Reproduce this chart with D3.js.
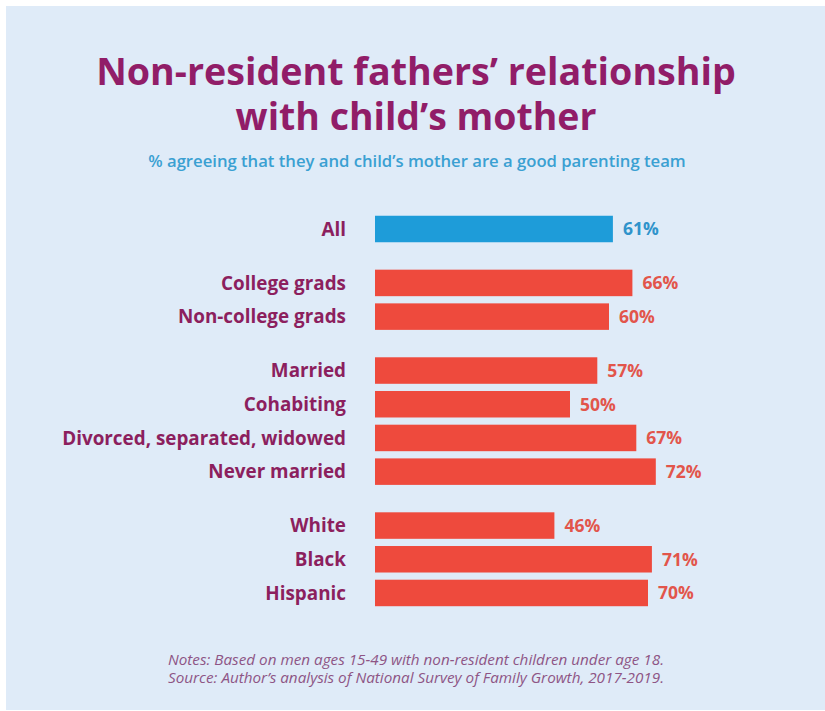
<!DOCTYPE html>
<html>
<head>
<meta charset="utf-8">
<script src="https://cdn.jsdelivr.net/npm/d3@7"></script>
<style>
  html, body { margin: 0; padding: 0; background: #ffffff; }
  svg { display: block; }
  text { font-family: "Open Sans", Lato, sans-serif; }
</style>
</head>
<body>
<svg id="chart" width="825" height="711"></svg>
<script>
// Share of non-resident fathers agreeing they and the child's mother are a good parenting team
const categories = [
  "All",
  "College grads", "Non-college grads",
  "Married", "Cohabiting", "Divorced, separated, widowed", "Never married",
  "White", "Black", "Hispanic"
];
const values = [61, 66, 60, 57, 50, 67, 72, 46, 71, 70];
// which block each row belongs to (blocks are separated by a gap)
const groupIndex = [0, 1, 1, 2, 2, 2, 2, 3, 3, 3];
const highlighted = ["All"];

const titleLines = ["Non-resident fathers’ relationship", "with child’s mother"];
const subtitle = "% agreeing that they and child’s mother are a good parenting team";
const notes = [
  "Notes: Based on men ages 15-49 with non-resident children under age 18.",
  "Source: Author’s analysis of National Survey of Family Growth, 2017-2019."
];

const W = 825, H = 711;
const svg = d3.select("#chart");

// scale a text (or tspan) element's font size so it spans the given width
function fitWidth(node, width) {
  const t = d3.select(node);
  const fs = parseFloat(t.attr("font-size"));
  const len = node.getComputedTextLength();
  if (len > 0) t.attr("font-size", fs * width / len);
}

// panel background
svg.append("rect")
  .attr("x", 6).attr("y", 6)
  .attr("width", W - 6).attr("height", H - 7)
  .attr("fill", "#dfebf8");

const cx = 416;

// title: one text block, one line per tspan
const titleWidths = [640, 361];
svg.append("text")
  .attr("text-anchor", "middle")
  .attr("font-weight", 700)
  .attr("fill", "#911d68")
  .selectAll("tspan")
  .data(titleLines)
  .join("tspan")
  .attr("x", cx)
  .attr("y", (d, i) => 85 + i * 45)
  .attr("font-size", 38)
  .text(d => d)
  .each(function (d, i) { fitWidth(this, titleWidths[i]); });

svg.append("text")
  .attr("x", cx + 1).attr("y", 167)
  .attr("text-anchor", "middle")
  .attr("font-size", 15)
  .attr("font-weight", 600)
  .attr("fill", "#3aa0d2")
  .text(subtitle)
  .each(function () { fitWidth(this, 538); });

// layout of rows: a fixed step per row plus an extra gap between blocks
const step = 33.7, blockGap = 0.6;
const slot = categories.map((c, i) => i + groupIndex[i] * blockGap);
const y = d3.scaleLinear()
  .domain([0, d3.max(slot)])
  .range([229, 229 + d3.max(slot) * step]);
const barH = 26.5;

const x = d3.scaleLinear().domain([0, 100]).range([375, 375 + 390]);

const rows = svg.append("g").selectAll("g")
  .data(categories.map((c, i) => ({ name: c, value: values[i], pos: slot[i] })))
  .join("g");

rows.append("rect")
  .attr("x", x(0))
  .attr("y", d => y(d.pos) - barH / 2)
  .attr("width", d => x(d.value) - x(0))
  .attr("height", barH)
  .attr("fill", d => highlighted.includes(d.name) ? "#1e9cd9" : "#ee4a3d");

// category labels share one size, set by the longest label
const labels = rows.append("text")
  .attr("x", 346)
  .attr("y", d => y(d.pos))
  .attr("dy", "0.36em")
  .attr("text-anchor", "end")
  .attr("font-size", 17)
  .attr("font-weight", 700)
  .attr("fill", "#8c1f5e")
  .text(d => d.name);
const longest = d3.max(labels.nodes(), n => n.getComputedTextLength());
labels.attr("font-size", 17 * 284 / longest);

rows.append("text")
  .attr("x", d => x(d.value) + 10)
  .attr("y", d => y(d.pos))
  .attr("dy", "0.36em")
  .attr("font-size", 17.5)
  .attr("font-weight", 700)
  .attr("fill", d => highlighted.includes(d.name) ? "#2f93cb" : "#e2554b")
  .text(d => d.value + "%");

// footnotes: one text block, one line per tspan
svg.append("text")
  .attr("text-anchor", "middle")
  .attr("font-style", "italic")
  .attr("fill", "#8e5585")
  .selectAll("tspan")
  .data(notes)
  .join("tspan")
  .attr("x", cx)
  .attr("y", (d, i) => 665 + i * 18)
  .attr("font-size", 14)
  .text(d => d)
  .each(function () { fitWidth(this, 496); });
</script>
</body>
</html>
